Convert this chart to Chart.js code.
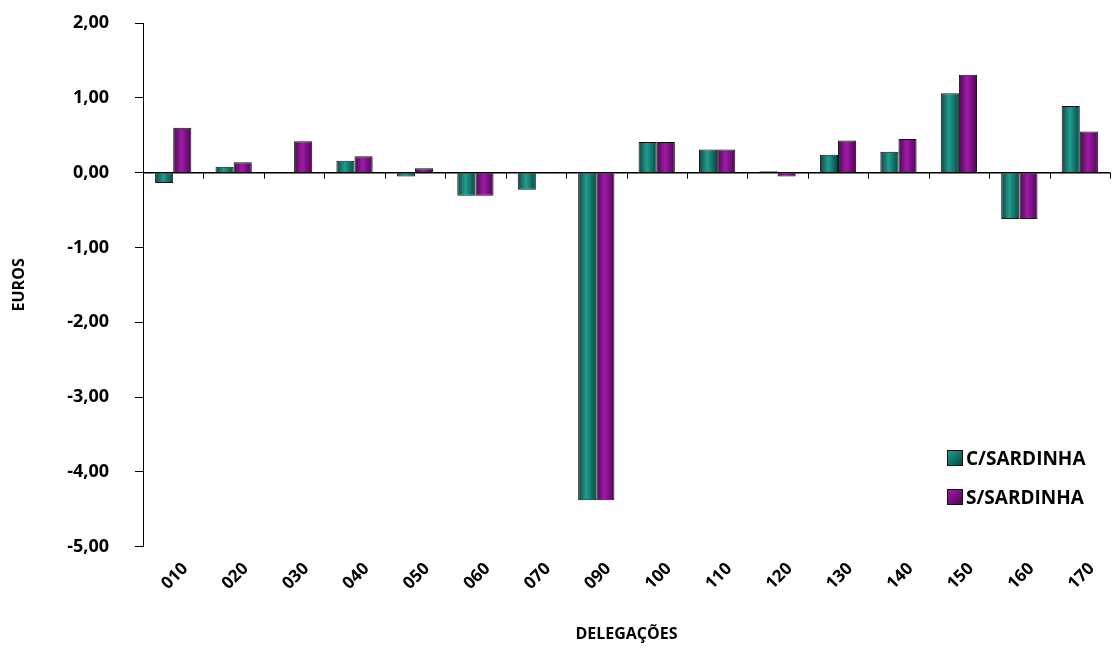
<!DOCTYPE html>
<html>
<head>
<meta charset="utf-8">
<script src="https://cdn.jsdelivr.net/npm/chart.js@4/dist/chart.umd.min.js"></script>
<style>
  body { margin: 0; background: #fff; }
  #wrap { position: relative; width: 1116px; height: 652px; }
  #legend { position: absolute; left: 947px; top: 438px; font: bold 19px "Open Sans", sans-serif; color: #000; }
  #legend div { height: 39px; display: flex; align-items: center; }
  #legend span.box { width: 14px; height: 14px; border: 1px solid #111; margin-right: 3px; }
</style>
</head>
<body>
<div id="wrap">
  <canvas id="chart" width="1116" height="652"></canvas>
  <div id="legend"></div>
</div>
<script>
document.addEventListener("DOMContentLoaded", function () {

  var categories = ["010", "020", "030", "040", "050", "060", "070", "090", "100", "110", "120", "130", "140", "150", "160", "170"];
  var cSardinha = [-0.14, 0.08, 0.01, 0.16, -0.05, -0.31, -0.23, -4.38, 0.41, 0.31, 0.02, 0.24, 0.28, 1.06, -0.62, 0.89];
  var sSardinha = [0.60, 0.14, 0.42, 0.22, 0.06, -0.31, -0.01, -4.38, 0.41, 0.31, -0.05, 0.43, 0.45, 1.31, -0.62, 0.55];
  var seriesNames = ["C/SARDINHA", "S/SARDINHA"];
  var yTicks = [-5, -4, -3, -2, -1, 0, 1, 2];

  var shades = [
    { edge: "#0b4642", mid: "#1f9e8f" },
    { edge: "#4a0850", mid: "#a11aa8" }
  ];

  var font = "'Open Sans', sans-serif";

  // horizontal gradient on every bar, light in the middle
  var barShade = {
    id: "barShade",
    beforeDatasetsDraw: function (chart) {
      var ctx = chart.ctx;
      chart.data.datasets.forEach(function (ds, i) {
        chart.getDatasetMeta(i).data.forEach(function (bar) {
          var x0 = bar.x - bar.width / 2, x1 = bar.x + bar.width / 2;
          var g = ctx.createLinearGradient(x0, 0, x1, 0);
          g.addColorStop(0, shades[i].edge);
          g.addColorStop(0.45, shades[i].mid);
          g.addColorStop(1, shades[i].edge);
          bar.options = Object.assign({}, bar.options, { backgroundColor: g });
        });
      });
    }
  };

  // category axis line crossing at zero, with small ticks between categories
  var zeroAxis = {
    id: "zeroAxis",
    afterDatasetsDraw: function (chart) {
      var ctx = chart.ctx, x = chart.scales.x, y = chart.scales.y;
      var y0 = y.getPixelForValue(0);
      var step = (x.right - x.left) / categories.length;
      ctx.save();
      ctx.strokeStyle = "#000";
      ctx.lineWidth = 1.5;
      ctx.beginPath();
      ctx.moveTo(x.left, y0);
      ctx.lineTo(x.right, y0);
      ctx.stroke();
      ctx.lineWidth = 1;
      for (var i = 1; i <= categories.length; i++) {
        var px = Math.round(x.getPixelForValue(i - 1) + step / 2) + 0.5;
        ctx.beginPath();
        ctx.moveTo(px, y0);
        ctx.lineTo(px, y0 + 6);
        ctx.stroke();
      }
      ctx.restore();
    }
  };

  var ctx = document.getElementById('chart').getContext('2d');

  chart = new Chart(ctx, {
    type: "bar",
    data: {
      labels: categories,
      datasets: [{
        label: seriesNames[0],
        data: cSardinha,
        backgroundColor: shades[0].mid,
        borderColor: "#111",
        borderWidth: 1,
        categoryPercentage: 0.6,
        barPercentage: 1.0
      }, {
        label: seriesNames[1],
        data: sSardinha,
        backgroundColor: shades[1].mid,
        borderColor: "#111",
        borderWidth: 1,
        categoryPercentage: 0.6,
        barPercentage: 1.0
      }]
    },
    options: {
      responsive: false,
      animation: false,
      layout: { padding: { left: 6, right: 6, top: 0, bottom: 4 } },
      plugins: {
        legend: { display: false },
        tooltip: { enabled: false }
      },
      scales: {
        x: {
          grid: { display: false },
          border: { display: false },
          ticks: {
            color: "#000",
            font: { family: font, size: 17, weight: "bold" },
            minRotation: 45,
            maxRotation: 45,
            labelOffset: 12,
            padding: 4
          },
          title: {
            display: true,
            text: "DELEGAÇÕES",
            color: "#000",
            font: { family: font, size: 16, weight: "bold" },
            padding: { top: 27 }
          }
        },
        y: {
          min: -5,
          max: 2,
          afterBuildTicks: function (axis) {
            axis.ticks = yTicks.map(function (v) { return { value: v }; });
          },
          afterFit: function (axis) { axis.paddingTop = 23; },
          grid: { drawOnChartArea: false, tickLength: 8, color: "#000" },
          border: { display: true, color: "#000" },
          ticks: {
            color: "#000",
            padding: 26,
            font: { family: font, size: 18, weight: "bold" },
            callback: function (v) { return v.toFixed(2).replace(".", ","); }
          },
          title: {
            display: true,
            text: "EUROS",
            color: "#000",
            font: { family: font, size: 16, weight: "bold" },
            padding: { bottom: 12 }
          }
        }
      }
    },
    plugins: [barShade, zeroAxis]
  });

  var legend = document.getElementById("legend");
  seriesNames.forEach(function (name, i) {
    var row = document.createElement("div");
    row.innerHTML = '<span class="box" style="background:linear-gradient(135deg,' + shades[i].mid + ',' + shades[i].edge + ')"></span>' + name;
    legend.appendChild(row);
  });

});
</script>
</body>
</html>
